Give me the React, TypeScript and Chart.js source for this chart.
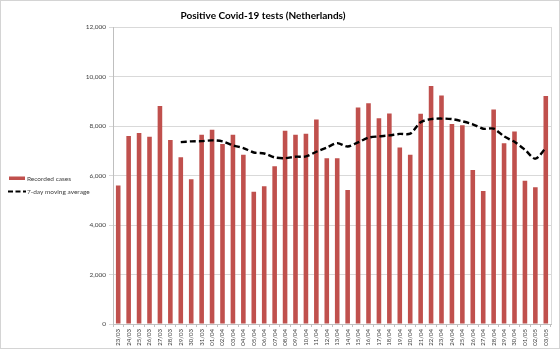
import React, { useEffect, useRef } from 'react';
import { Chart, registerables } from 'chart.js';

Chart.register(...registerables);

const chartTitle = 'Positive Covid-19 tests (Netherlands)';

const dateLabels = [
  '23/03', '24/03', '25/03', '26/03', '27/03', '28/03', '29/03', '30/03', '31/03',
  '01/04', '02/04', '03/04', '04/04', '05/04', '06/04', '07/04', '08/04', '09/04', '10/04',
  '11/04', '12/04', '13/04', '14/04', '15/04', '16/04', '17/04', '18/04', '19/04', '20/04',
  '21/04', '22/04', '23/04', '24/04', '25/04', '26/04', '27/04', '28/04', '29/04', '30/04',
  '01/05', '02/05', '03/05',
];

const recordedCases = [
  5600, 7600, 7720, 7570, 8810, 7430, 6740, 5850, 7650,
  7850, 7270, 7650, 6840, 5340, 5570, 6370, 7810, 7650, 7690,
  8260, 6700, 6700, 5410, 8750, 8920, 8310, 8510, 7130, 6840,
  8490, 9620, 9230, 8080, 8030, 6220, 5370, 8670, 7300, 7780,
  5790, 5530, 9210,
];

const movingAverage: (number | null)[] = [
  null, null, null, null, null, null, 7350, 7380, 7390,
  7420, 7380, 7220, 7110, 6930, 6890, 6730, 6700, 6760, 6770,
  6960, 7130, 7310, 7170, 7340, 7530, 7580, 7620, 7680, 7690,
  8150, 8280, 8300, 8280, 8190, 8070, 7890, 7890, 7580, 7360,
  7040, 6680, 7110,
];

const yMin = 0;
const yMax = 12000;
const yStep = 2000;

const barColor = '#C0504D';
const fontFamily = 'Lato, "Liberation Sans", sans-serif';

const decoPlugin = {
  id: 'deco',
  afterDraw(chart: any) {
    const { ctx, chartArea } = chart;
    ctx.save();
    // outer frame
    ctx.strokeStyle = '#d4d4d4';
    ctx.lineWidth = 1;
    ctx.strokeRect(0.5, 0.5, chart.width - 1, chart.height - 1);
    // right plot edge
    ctx.strokeStyle = '#d9d9d9';
    ctx.beginPath();
    const rx = Math.round(chartArea.right) + 0.5;
    ctx.moveTo(rx, chartArea.top);
    ctx.lineTo(rx, chartArea.bottom);
    ctx.stroke();
    // title
    ctx.fillStyle = '#000000';
    ctx.font = `bold 10px ${fontFamily}`;
    ctx.textAlign = 'center';
    ctx.textBaseline = 'middle';
    ctx.fillText(chartTitle, 263, 16);
    // legend
    const ds = chart.data.datasets;
    ctx.font = `6.5px ${fontFamily}`;
    ctx.textAlign = 'left';
    ctx.fillStyle = barColor;
    ctx.fillRect(9, 176.5, 16, 3.5);
    ctx.fillStyle = '#404040';
    ctx.fillText(ds[0].label, 27, 178.5);
    ctx.strokeStyle = '#000000';
    ctx.lineWidth = 2;
    ctx.setLineDash([5, 2.5]);
    ctx.beginPath();
    ctx.moveTo(8, 191.5);
    ctx.lineTo(26, 191.5);
    ctx.stroke();
    ctx.setLineDash([]);
    ctx.fillText(ds[1].label, 27, 191.5);
    ctx.restore();
  },
};

export default function App() {
  const canvasRef = useRef<HTMLCanvasElement | null>(null);

  useEffect(() => {
    document.body.style.margin = '0';
    if (!canvasRef.current) return;
    const chart = new Chart(canvasRef.current, {
      type: 'bar',
      data: {
        labels: dateLabels,
        datasets: [
          {
            type: 'bar',
            label: 'Recorded cases',
            data: recordedCases,
            backgroundColor: barColor,
            borderWidth: 0,
            categoryPercentage: 1,
            barPercentage: 0.44,
            order: 2,
          },
          {
            type: 'line',
            label: '7-day moving average',
            data: movingAverage,
            borderColor: '#000000',
            borderWidth: 2.4,
            borderDash: [6, 3],
            pointRadius: 0,
            tension: 0.3,
            fill: false,
            spanGaps: false,
            order: 1,
          },
        ],
      },
      options: {
        responsive: false,
        animation: false,
        layout: { padding: { left: 84, right: 9, top: 27, bottom: 0 } },
        plugins: {
          legend: { display: false },
          title: { display: false },
          tooltip: { enabled: false },
        },
        scales: {
          x: {
            offset: true,
            grid: {
              display: true,
              drawOnChartArea: false,
              offset: true,
              tickLength: 3,
              color: '#bfbfbf',
            },
            border: { display: true, color: '#bfbfbf' },
            ticks: {
              autoSkip: false,
              maxRotation: 90,
              minRotation: 90,
              padding: 2,
              color: '#404040',
              font: { size: 6, family: fontFamily },
            },
            afterFit: (scale: any) => {
              scale.height = 25;
            },
          },
          y: {
            min: yMin,
            max: yMax,
            ticks: {
              stepSize: yStep,
              padding: 3,
              color: '#404040',
              font: { size: 6.5, family: fontFamily },
              callback: (v: any) => Number(v).toLocaleString('en-US'),
            },
            grid: { color: '#d9d9d9', tickLength: 4 },
            border: { display: true, color: '#bfbfbf' },
            afterFit: (scale: any) => {
              scale.width = 29;
            },
          },
        },
      },
      plugins: [decoPlugin],
    });
    return () => chart.destroy();
  }, []);

  return (
    <div style={{ width: 560, height: 349 }}>
      <canvas ref={canvasRef} width={560} height={349} />
    </div>
  );
}
